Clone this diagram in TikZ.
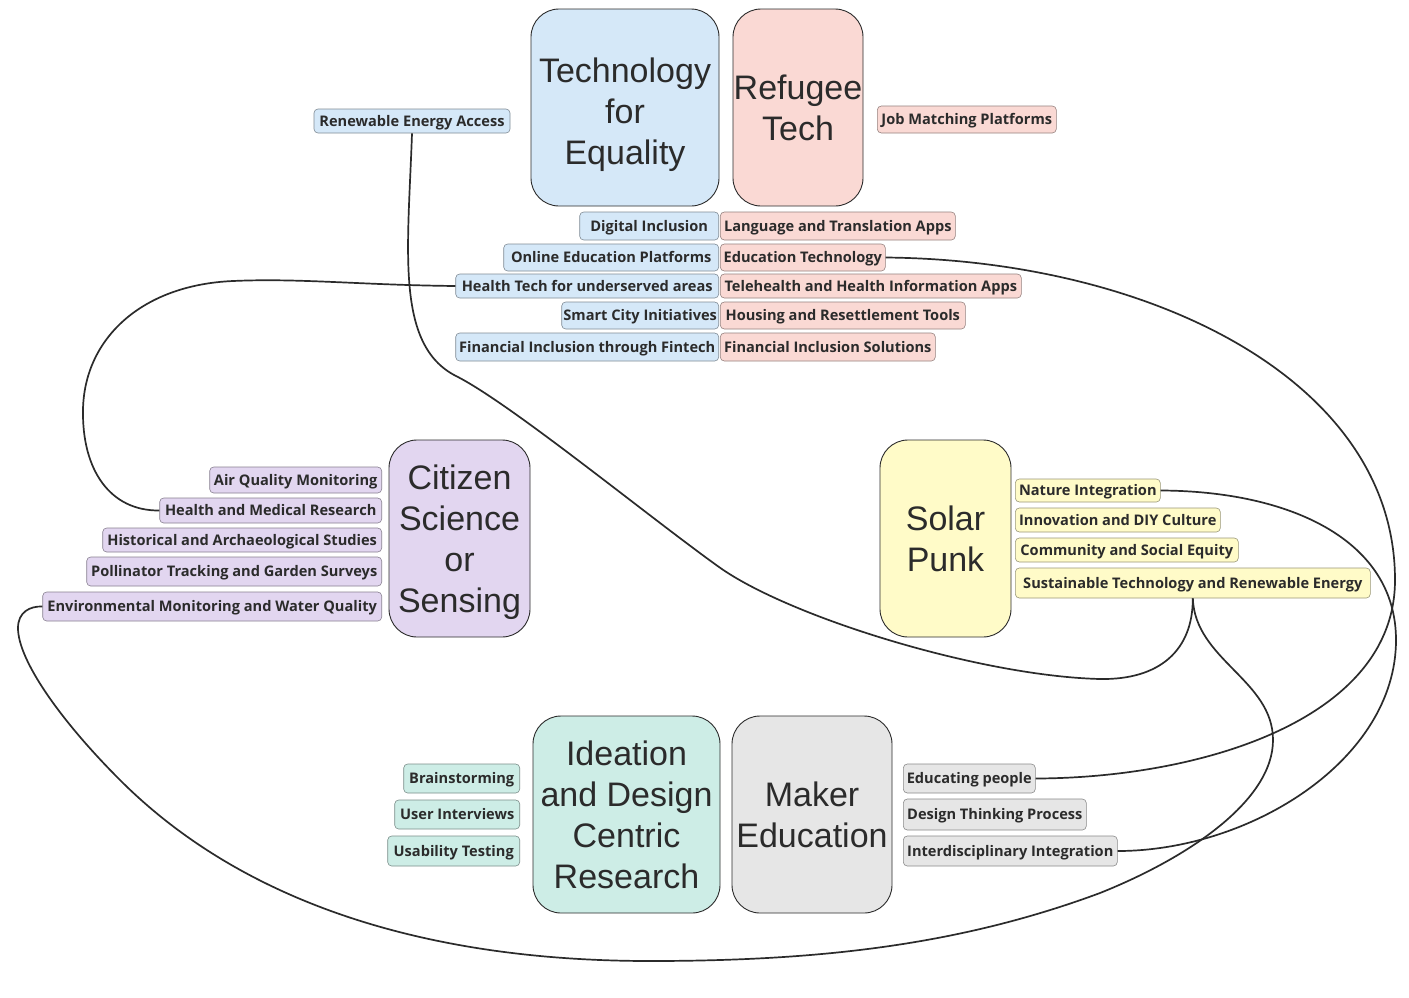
\documentclass[tikz,border=0pt]{standalone}
\usepackage{fontspec}
\setmainfont{Open Sans}
\newfontfamily\bigfont{Liberation Sans}
\definecolor{cblue}{HTML}{D5E8F8}
\definecolor{cpink}{HTML}{FAD9D4}
\definecolor{cpurple}{HTML}{E2D6F0}
\definecolor{cyellow}{HTML}{FFFBC8}
\definecolor{cteal}{HTML}{CDEDE6}
\definecolor{cgrey}{HTML}{E6E6E6}
\definecolor{ink}{HTML}{2B2B2B}
\begin{document}
\begin{tikzpicture}[x=1pt,y=-1pt,
  bigbox/.style={draw=ink, line width=0.9pt, rounded corners=28pt, align=center, text=ink, inner sep=0pt,
    text depth=0pt, font=\bigfont\fontsize{34}{41}\selectfont},
  leaf/.style={draw=#1!60!black, fill=#1, rounded corners=4pt, line width=0.6pt, text=ink, inner sep=0pt,
    text height=11pt, text depth=1pt, font=\bfseries\fontsize{14.6}{16}\selectfont},
  conn/.style={draw=ink, line width=1.7pt}]
\useasboundingbox[fill=white] (0,0) rectangle (1409,997);

% big topic boxes
\node[bigbox, fill=cblue, minimum width=188pt, minimum height=197pt] (tfe) at (625,107.5) {\rule{0pt}{31pt}Technology\\for\\Equality};
\node[bigbox, fill=cpink, minimum width=130pt, minimum height=197pt] (ref) at (798,107.5) {Refugee\\Tech};
\node[bigbox, fill=cpurple, minimum width=141pt, minimum height=197pt] (cit) at (459.5,538.5) {Citizen\\Science\\or\\Sensing};
\node[bigbox, fill=cyellow, minimum width=131pt, minimum height=197pt] (sol) at (945.5,538.5) {Solar\\Punk};
\node[bigbox, fill=cteal, minimum width=187pt, minimum height=197pt] (ide) at (626.5,814.5) {Ideation\\and Design\\Centric\\Research};
\node[bigbox, fill=cgrey, minimum width=160pt, minimum height=197pt] (mak) at (812,814.5) {Maker\\Education};

% Technology for Equality leaves
\node[leaf=cblue, minimum width=196pt, minimum height=24pt] (rea) at (412,121) {Renewable Energy Access};
\node[leaf=cblue, anchor=east, minimum width=139pt, minimum height=28pt] (di) at (719,226) {Digital Inclusion};
\node[leaf=cblue, anchor=east, minimum width=215pt, minimum height=27pt] (oep) at (719,257.5) {Online Education Platforms};
\node[leaf=cblue, anchor=east, minimum width=263pt, minimum height=24pt] (ht) at (719,286) {Health Tech for underserved areas};
\node[leaf=cblue, anchor=east, minimum width=157pt, minimum height=27pt] (sci) at (719,315.5) {Smart City Initiatives};
\node[leaf=cblue, anchor=east, minimum width=263pt, minimum height=28pt] (fit) at (719,347) {Financial Inclusion through Fintech};

% Refugee Tech leaves
\node[leaf=cpink, anchor=west, minimum width=179pt, minimum height=27pt] (jmp) at (877,119.5) {Job Matching Platforms};
\node[leaf=cpink, anchor=west, minimum width=235pt, minimum height=28pt] (lta) at (720,226) {Language and Translation Apps};
\node[leaf=cpink, anchor=west, minimum width=165pt, minimum height=27pt] (edt) at (720,257.5) {Education Technology};
\node[leaf=cpink, anchor=west, minimum width=301pt, minimum height=24pt] (tel) at (720,286) {Telehealth and Health Information Apps};
\node[leaf=cpink, anchor=west, minimum width=245pt, minimum height=27pt] (hrt) at (720,315.5) {Housing and Resettlement Tools};
\node[leaf=cpink, anchor=west, minimum width=215pt, minimum height=28pt] (fis) at (720,347) {Financial Inclusion Solutions};

% Citizen Science leaves
\node[leaf=cpurple, anchor=east, minimum width=172pt, minimum height=26pt] (aqm) at (382,480) {Air Quality Monitoring};
\node[leaf=cpurple, anchor=east, minimum width=222pt, minimum height=25pt] (hmr) at (382,510.5) {Health and Medical Research};
\node[leaf=cpurple, anchor=east, minimum width=279pt, minimum height=24pt] (has) at (382,540) {Historical and Archaeological Studies};
\node[leaf=cpurple, anchor=east, minimum width=295pt, minimum height=29pt] (pts) at (382,571.5) {Pollinator Tracking and Garden Surveys};
\node[leaf=cpurple, anchor=east, minimum width=339pt, minimum height=29pt] (emw) at (382,606.5) {Environmental Monitoring and Water Quality};

% Solar Punk leaves
\node[leaf=cyellow, anchor=west, minimum width=145pt, minimum height=23pt] (ni) at (1015,490.5) {Nature Integration};
\node[leaf=cyellow, anchor=west, minimum width=205pt, minimum height=24pt] (idc) at (1015,520) {Innovation and DIY Culture};
\node[leaf=cyellow, anchor=west, minimum width=223pt, minimum height=24pt] (cse) at (1015,550) {Community and Social Equity};
\node[leaf=cyellow, anchor=west, minimum width=355pt, minimum height=30pt] (ste) at (1015,583) {Sustainable Technology and Renewable Energy};

% Ideation leaves
\node[leaf=cteal, anchor=east, minimum width=116pt, minimum height=29pt] (bs) at (520,778.5) {Brainstorming};
\node[leaf=cteal, anchor=east, minimum width=125pt, minimum height=29pt] (ui) at (520,814.5) {User Interviews};
\node[leaf=cteal, anchor=east, minimum width=132pt, minimum height=30pt] (ut) at (520,851) {Usability Testing};

% Maker Education leaves
\node[leaf=cgrey, anchor=west, minimum width=132pt, minimum height=29pt] (ep) at (903,778.5) {Educating people};
\node[leaf=cgrey, anchor=west, minimum width=183pt, minimum height=31pt] (dtp) at (903,814.5) {Design Thinking Process};
\node[leaf=cgrey, anchor=west, minimum width=214pt, minimum height=30pt] (ii) at (903,851) {Interdisciplinary Integration};

% connectors
\draw[conn] (rea.south) .. controls (408,250) and (395,345) .. (456,376)
  .. controls (510,403) and (649,517) .. (719,567)
  .. controls (789,617) and (980,676) .. (1100,679)
  .. controls (1160,680) and (1193,650) .. (ste.south);
\draw[conn] (ste.south) .. controls (1195,660) and (1273,680) .. (1273,740)
  .. controls (1273,800) and (1190,857) .. (1100,893)
  .. controls (960,945) and (820,961) .. (650,961)
  .. controls (420,961) and (240,900) .. (120,780)
  .. controls (60,720) and (18,660) .. (18,628)
  .. controls (18,612) and (30,606) .. (emw.west);
\draw[conn] (edt.east) .. controls (1150,260) and (1395,380) .. (1395,580)
  .. controls (1395,720) and (1200,778) .. (ep.east);
\draw[conn] (ht.west) .. controls (360,285) and (300,278) .. (233,281)
  .. controls (140,285) and (84,340) .. (83,410)
  .. controls (82,470) and (110,511) .. (hmr.west);
\draw[conn] (ni.east) .. controls (1290,491) and (1396,540) .. (1396,640)
  .. controls (1396,760) and (1250,851) .. (ii.east);
\end{tikzpicture}
\end{document}
